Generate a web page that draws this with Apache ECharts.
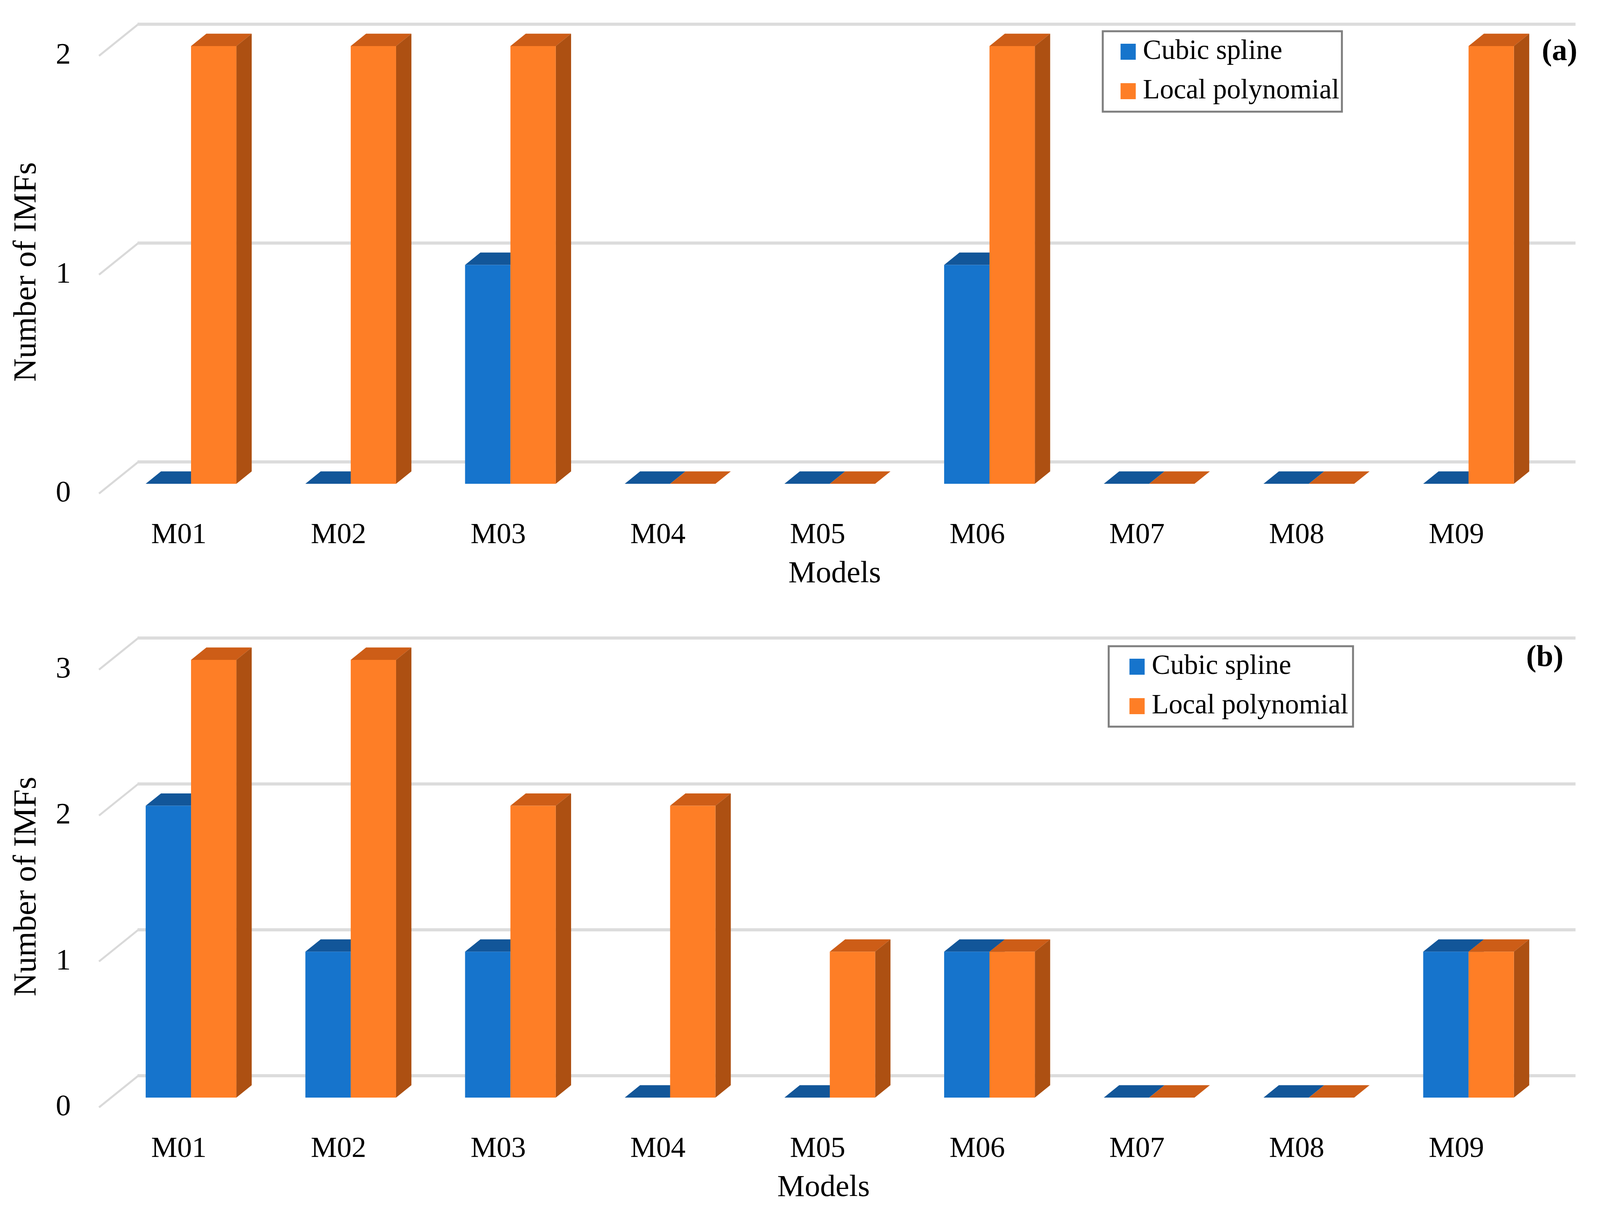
<!DOCTYPE html>
<html>
<head>
<meta charset="utf-8">
<style>html,body{margin:0;padding:0;background:#fff;overflow:hidden}#c{width:100vw;height:3104px}</style>
<script src="https://cdn.jsdelivr.net/npm/echarts@6/dist/echarts.min.js"></script>
</head>
<body>
<div id="c"></div>
<script>
var categories = ['M01','M02','M03','M04','M05','M06','M07','M08','M09'];
var cubicA = [0,0,1,0,0,1,0,0,0];
var localA = [2,2,2,0,0,2,0,0,2];
var cubicB = [2,1,1,0,0,1,0,0,1];
var localB = [3,3,2,2,1,1,0,0,1];
var ticksA = [0,1,2];
var ticksB = [0,1,2,3];
var nameCubic = 'Cubic spline';
var nameLocal = 'Local polynomial';

// the layout is measured on the 4315 wide reference; the browser viewport may be narrower
var SX = window.innerWidth / 4315;
function X(v){ return v * SX; }

var FONT = '"Liberation Serif"';
var WALL_DX = X(106), WALL_DY = 81, NEAR = 0.31, FAR = 0.70, BAR_W = 0.284;
var BLUE = {front:'#1674cc', top:'#125699', side:'#0f4f8c'};
var ORANGE = {front:'#fe7e26', top:'#cd5d17', side:'#ad5012'};

function poly(pts, color){
  return {type:'polygon', shape:{points:pts}, style:{fill:color, stroke:null}};
}
function barRender(palette, sign){
  return function(params, api){
    var cat = api.value(0), val = api.value(1);
    var band = api.size([1,0])[0];
    var w = band * BAR_W;
    var base = api.coord([cat,0]), top = api.coord([cat,val]);
    var sx = WALL_DX*NEAR, sy = WALL_DY*NEAR;
    var dx = WALL_DX*(FAR-NEAR), dy = WALL_DY*(FAR-NEAR);
    var l = base[0]+sx + (sign<0 ? -w : 0), r = l+w;
    var b = base[1]-sy, t = top[1]-sy;
    return {type:'group', children:[
      poly([[l,t],[r,t],[r+dx,t-dy],[l+dx,t-dy]], palette.top),
      poly([[r,t],[r+dx,t-dy],[r+dx,b-dy],[r,b]], palette.side),
      poly([[l,t],[r,t],[r,b],[l,b]], palette.front)
    ]};
  };
}
function wallRender(params, api){
  var c = params.coordSys;
  var p = api.coord([0, api.value(1)]);
  var y = p[1];
  return {type:'group', children:[
    {type:'polyline', shape:{points:[[c.x,y],[c.x+WALL_DX,y-WALL_DY]]},
     style:{stroke:'#d9d9d9', lineWidth:5, fill:null}},
    {type:'line', shape:{x1:c.x+WALL_DX-2,y1:y-WALL_DY,x2:c.x+c.width+WALL_DX,y2:y-WALL_DY},
     style:{stroke:'#dcdcdc', lineWidth:8}}
  ]};
}
function pairs(arr){ return arr.map(function(v,i){ return [i,v]; }); }
function wallSeries(ticks, idx){
  return {type:'custom', name:'wall'+idx, xAxisIndex:idx, yAxisIndex:idx, z:1, silent:true,
    renderItem:wallRender, data:ticks.map(function(t){return [0,t];}), encode:{x:0,y:1}};
}
function barSeries(name, values, palette, sign, idx, z){
  return {type:'custom', name:name, xAxisIndex:idx, yAxisIndex:idx, z:z,
    itemStyle:{color:palette.front}, renderItem:barRender(palette, sign),
    data:pairs(values), encode:{x:0,y:1}};
}
function xAxis(idx, pad, gap){
  return {type:'category', gridIndex:idx, data:categories, name:'Models', nameLocation:'middle', nameGap:gap,
    nameTextStyle:{fontFamily:FONT, fontSize:79, color:'#000', padding:[0,0,0,X(pad)]},
    axisLine:{show:false}, axisTick:{show:false}, splitLine:{show:false},
    axisLabel:{fontFamily:FONT, fontSize:75, color:'#000', margin:70, interval:0}};
}
function yAxis(idx, max, pad){
  return {type:'value', gridIndex:idx, min:0, max:max, interval:1, name:'Number of IMFs', nameLocation:'middle', nameGap:X(150),
    nameTextStyle:{fontFamily:FONT, fontSize:83, color:'#000', padding:[0,0,0,pad]},
    axisLine:{show:false}, axisTick:{show:false}, splitLine:{show:false},
    axisLabel:{fontFamily:FONT, fontSize:77, color:'#000', margin:X(76)}};
}
function legend(left, top, padLeft, padRight){
  return {data:[nameCubic,nameLocal], orient:'vertical', left:X(left), top:top, icon:'rect',
    itemWidth:X(41), itemHeight:41, itemGap:30, padding:[17,X(padRight),17,X(padLeft)],
    borderColor:'#7f7f7f', borderWidth:5, backgroundColor:'#fff',
    textStyle:{fontFamily:FONT, fontSize:71, color:'#000', padding:[0,0,0,X(14)]}};
}
function panelTag(letter, left, top){
  return {text:'{p|(}{b|'+letter+'}{p|)}', left:X(left), top:top, padding:0,
    textStyle:{rich:{p:{fontFamily:FONT,fontSize:78,color:'#000'},b:{fontFamily:FONT,fontSize:78,fontWeight:'bold',color:'#000'}}}};
}
var chart = echarts.init(document.getElementById('c'), null, {renderer:'canvas'});
chart.setOption({
  animation:false,
  backgroundColor:'#fff',
  title:[panelTag('a',4158,95), panelTag('b',4116,1647)],
  legend:[legend(2974,80,48,7), legend(2990,1655,56,13)],
  grid:[
    {left:X(267), top:143, width:X(3876), height:1121},
    {left:X(267), top:1715, width:X(3876), height:1121}
  ],
  xAxis:[xAxis(0,92,167), xAxis(1,32,167)],
  yAxis:[yAxis(0,2,14), yAxis(1,3,10)],
  series:[
    wallSeries(ticksA,0), wallSeries(ticksB,1),
    barSeries(nameCubic,cubicA,BLUE,-1,0,2),
    barSeries(nameLocal,localA,ORANGE,1,0,3),
    barSeries(nameCubic,cubicB,BLUE,-1,1,2),
    barSeries(nameLocal,localB,ORANGE,1,1,3)
  ]
});
</script>
</body>
</html>
